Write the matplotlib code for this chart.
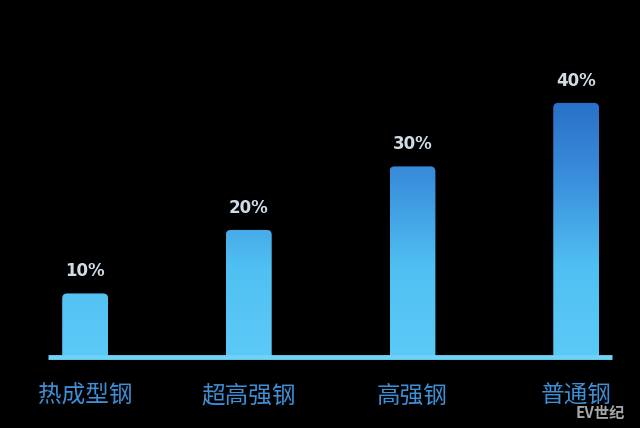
import numpy as np
import matplotlib
matplotlib.use('Agg')
from matplotlib import pyplot as plt
from matplotlib.patches import FancyBboxPatch
from matplotlib.colors import LinearSegmentedColormap

plt.rcParams['font.family'] = ['Noto Sans CJK SC', 'DejaVu Sans']

categories = ['热成型钢', '超高强钢', '高强钢', '普通钢']
shares = [10, 20, 30, 40]
share_labels = ['10%', '20%', '30%', '40%']

bar_width = 0.28
grad = LinearSegmentedColormap.from_list(
    'steel', [(0.0, '#5ccaf7'), (0.35, '#50c0f2'), (0.7, '#3a8fdc'), (1.0, '#2a70c8')])

fig = plt.figure(figsize=(6.4, 4.28), dpi=100, facecolor='black')
ax = fig.add_axes([0, 0.166, 1, 0.742])
ax.set_facecolor('black')
ax.axis('off')

# vertical gradient shared by all bars (absolute height)
gradient = np.linspace(0, 1, 256).reshape(-1, 1)

for i, (val, lab) in enumerate(zip(shares, share_labels)):
    x0 = i - bar_width / 2
    box = FancyBboxPatch((x0, -2), bar_width, val + 2,
                         boxstyle='round,pad=0,rounding_size=0.03',
                         mutation_aspect=25.8, facecolor='none',
                         edgecolor='none')
    ax.add_patch(box)
    im = ax.imshow(gradient, cmap=grad, origin='lower', aspect='auto',
                   extent=(x0, x0 + bar_width, 0, 40), vmin=0, vmax=1)
    im.set_clip_path(box)
    ax.text(i, val + 3.5, lab, ha='center', va='center', fontsize=12,
            fontweight='semibold', color='#cfdbe6', family='DejaVu Sans')
    ax.text(i, -6.2, categories[i], ha='center', va='center', fontsize=17,
            fontweight='medium', color='#3d8fd6', clip_on=False)

ax.set_xlim(-0.52, 3.39)
ax.set_ylim(0, 50)

# baseline
ax.plot([-0.226, 3.22], [0, 0], color='#6fd2f6', linewidth=3.5,
        solid_capstyle='butt', clip_on=False)

fig.text(0.977, 0.035, 'EV世纪', ha='right', va='center', fontsize=11,
         style='italic', fontweight='bold', color='#d0d0d0', alpha=0.8)

fig.savefig('out.png', dpi=100, facecolor='black')
